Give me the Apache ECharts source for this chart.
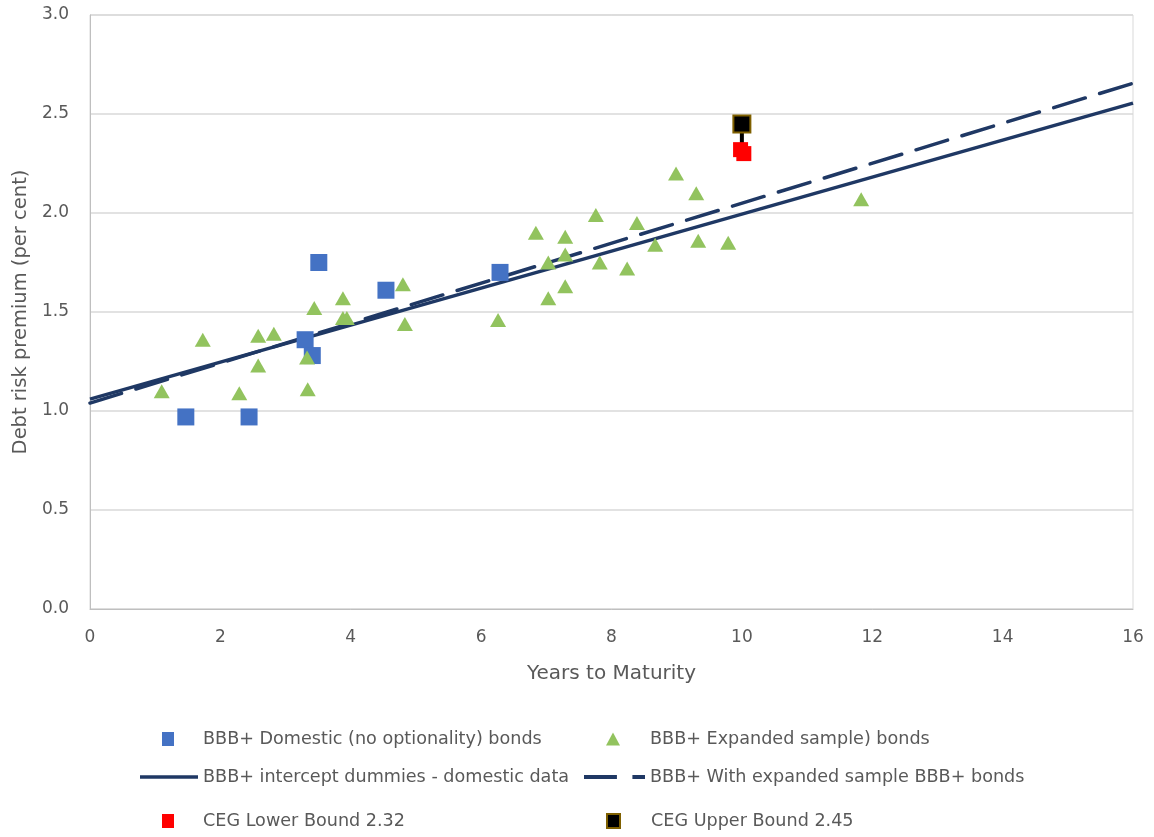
<!DOCTYPE html>
<html>
<head>
<meta charset="utf-8">
<script src="https://cdn.jsdelivr.net/npm/echarts@6/dist/echarts.min.js"></script>
<style>
html,body{margin:0;padding:0;background:#fff;}
#chart{width:1154px;height:837px;}
</style>
</head>
<body>
<div id="chart"></div>
<script>
// Data
const domesticBonds = [
  [1.47, 0.97], [2.44, 0.97], [3.30, 1.36], [3.41, 1.28],
  [3.51, 1.75], [4.54, 1.61], [6.29, 1.70]
];
const expandedBonds = [
  [1.10, 1.10], [1.73, 1.36], [2.29, 1.09], [2.58, 1.23], [2.58, 1.38],
  [2.82, 1.39], [3.33, 1.27], [3.34, 1.11], [3.44, 1.52], [3.88, 1.57],
  [3.88, 1.47], [3.94, 1.47], [4.80, 1.64], [4.83, 1.44], [6.26, 1.46],
  [6.84, 1.90], [7.03, 1.75], [7.03, 1.57], [7.29, 1.88], [7.29, 1.79],
  [7.29, 1.63], [7.76, 1.99], [7.82, 1.75], [8.24, 1.72], [8.39, 1.95],
  [8.67, 1.84], [8.99, 2.20], [9.30, 2.10], [9.33, 1.86], [9.79, 1.85],
  [11.83, 2.07]
];
const trendX = [0, 16];
const trendDomestic = [1.06, 2.555];
const trendExpanded = [1.04, 2.655];
const cegLower = [[9.98, 2.32], [10.03, 2.30]];
const cegUpper = [[10.0, 2.45]];
const cegConnector = [[10.0, 2.32], [10.0, 2.45]];
const xTicks = [0, 2, 4, 6, 8, 10, 12, 14, 16];
const yTicks = [0.0, 0.5, 1.0, 1.5, 2.0, 2.5, 3.0];

const names = {
  dom: 'BBB+ Domestic (no optionality) bonds',
  exp: 'BBB+ Expanded sample) bonds',
  tdom: 'BBB+ intercept dummies - domestic data',
  texp: 'BBB+ With expanded sample BBB+ bonds',
  low: 'CEG Lower Bound 2.32',
  up: 'CEG Upper Bound 2.45'
};

const FONT = 'DejaVu Sans';
const GREY = '#595959';
const NAVY = '#1F3864';

function zip(xs, ys){ return xs.map((x,i)=>[x, ys[i]]); }

function leg(item, left, centerY, w, h, pad){
  return {
    data: [item], left: left, top: centerY - 10, padding: 0,
    itemWidth: w, itemHeight: h, selectedMode: false, symbolKeepAspect: false,
    textStyle: {fontFamily: FONT, fontSize: 17.6, color: GREY, padding: [0,0,0,pad], height: 20, lineHeight: 20}
  };
}

const chart = echarts.init(document.getElementById('chart'));
chart.setOption({
  animation: false,
  textStyle: {fontFamily: FONT},
  grid: {left: 90, right: 21, top: 15, bottom: 228, show: true, borderColor: '#D9D9D9', borderWidth: 1},
  xAxis: {
    type: 'value', min: xTicks[0], max: xTicks[xTicks.length-1], interval: 2,
    name: 'Years to Maturity', nameLocation: 'middle', nameGap: 55,
    nameTextStyle: {fontFamily: FONT, fontSize: 20, color: GREY},
    axisLine: {show: true, lineStyle: {color: '#BFBFBF'}},
    axisTick: {show: false},
    splitLine: {show: false},
    axisLabel: {fontFamily: FONT, fontSize: 17, color: GREY, margin: 20}
  },
  yAxis: {
    type: 'value', min: yTicks[0], max: yTicks[yTicks.length-1], interval: 0.5,
    name: 'Debt risk premium (per cent)', nameLocation: 'middle', nameGap: 57,
    nameTextStyle: {fontFamily: FONT, fontSize: 19.5, color: GREY},
    axisLine: {show: true, lineStyle: {color: '#BFBFBF'}},
    axisTick: {show: false},
    splitLine: {show: true, lineStyle: {color: '#D9D9D9', width: 1.5}},
    axisLabel: {fontFamily: FONT, fontSize: 17, color: GREY, margin: 21, formatter: v => v.toFixed(1)}
  },
  legend: [
    leg({name: names.dom, icon: 'rect'}, 162, 739, 12, 14, 24),
    leg({name: names.exp, icon: 'triangle'}, 606, 739, 14, 13, 25),
    leg({name: names.tdom, icon: 'rect'}, 140, 777, 58, 3.5, 0),
    leg({name: names.texp, icon: 'path://M0,0 H34 V4 H0 Z M50,0 H63 V4 H50 Z'}, 584, 777, 61, 4, 0),
    leg({name: names.low, icon: 'rect'}, 162, 821, 12, 14, 24),
    leg({name: names.up, icon: 'rect'}, 606, 821, 13, 14, 26)
  ],
  series: [
    {name: names.tdom, type: 'line', data: zip(trendX, trendDomestic), symbol: 'none', z: 1,
     lineStyle: {color: NAVY, width: 3.5}, itemStyle: {color: NAVY}},
    {name: names.texp, type: 'line', data: zip(trendX, trendExpanded), symbol: 'none', z: 1,
     lineStyle: {color: NAVY, width: 3.5, type: [33, 15], cap: 'round'}, itemStyle: {color: NAVY}},
    {name: names.dom, type: 'scatter', data: domesticBonds, symbol: 'rect', symbolSize: 17, z: 3,
     itemStyle: {color: '#4472C4', opacity: 1}},
    {name: names.exp, type: 'scatter', data: expandedBonds, symbol: 'triangle', symbolSize: [16, 14], z: 3,
     itemStyle: {color: '#92C35E', opacity: 1}},
    {name: 'connector', type: 'line', data: cegConnector, symbol: 'none', z: 2,
     lineStyle: {color: '#000000', width: 4}},
    {name: names.low, type: 'scatter', data: cegLower, symbol: 'rect', symbolSize: 15, z: 4,
     itemStyle: {color: '#FF0000', opacity: 1}},
    {name: names.up, type: 'scatter', data: cegUpper, symbol: 'rect', symbolSize: 17, z: 5,
     itemStyle: {color: '#000000', borderColor: '#7F6000', borderWidth: 2, opacity: 1}}
  ]
});
</script>
</body>
</html>
